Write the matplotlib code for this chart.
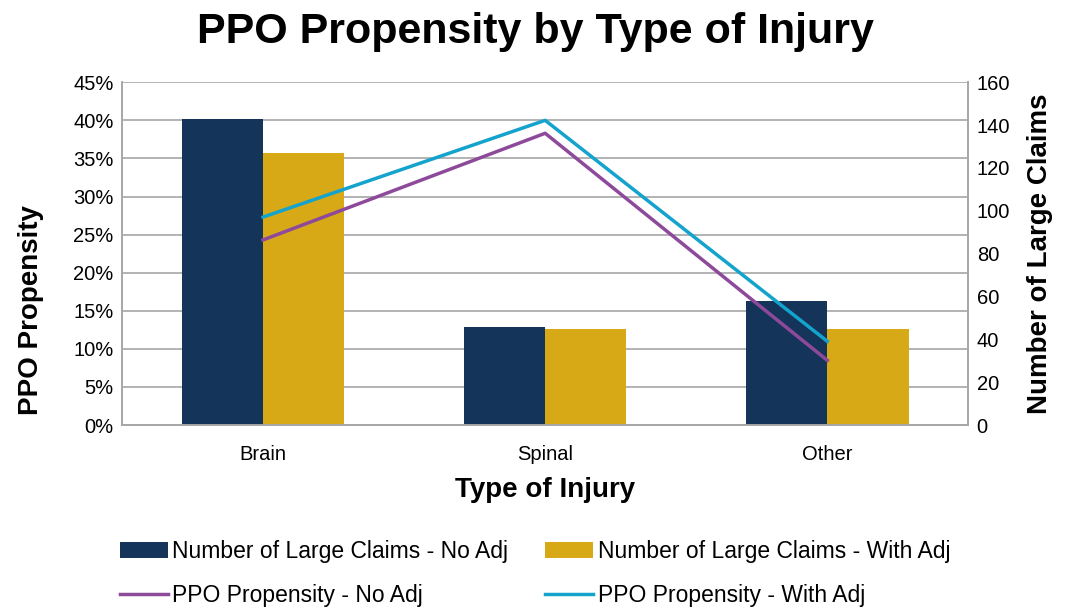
import matplotlib
matplotlib.use('Agg')
import matplotlib.pyplot as plt
import numpy as np

plt.rcParams['font.family'] = ['Liberation Sans', 'DejaVu Sans']

categories = ['Brain', 'Spinal', 'Other']
claims_no_adj = [143, 46, 58]
claims_with_adj = [127, 45, 45]
ppo_no_adj = [0.243, 0.383, 0.085]
ppo_with_adj = [0.273, 0.400, 0.110]

navy = '#14345a'
gold = '#d8a917'
purple = '#8e4a9a'
cyan = '#14a3cc'

fig = plt.figure(figsize=(10.7, 6.09), dpi=100)
ax = fig.add_axes([0.114, 0.302, 0.791, 0.563])
ax2 = ax.twinx()

x = np.arange(len(categories))
w = 0.288
ax2.bar(x - w/2, claims_no_adj, w, color=navy, label='Number of Large Claims - No Adj', zorder=2)
ax2.bar(x + w/2, claims_with_adj, w, color=gold, label='Number of Large Claims - With Adj', zorder=2)

# lines on the left axis, drawn above the bars
ax.set_zorder(ax2.get_zorder() + 1)
ax.patch.set_visible(False)
ax.plot(x, ppo_no_adj, color=purple, lw=2.5, label='PPO Propensity - No Adj')
ax.plot(x, ppo_with_adj, color=cyan, lw=2.5, label='PPO Propensity - With Adj')

ax.set_ylim(0, 0.45)
ax.set_yticks(np.arange(0, 0.46, 0.05))
ax.set_yticklabels([f'{int(round(v*100))}%' for v in np.arange(0, 0.46, 0.05)])
ax2.set_ylim(0, 160)
ax2.set_yticks(range(0, 161, 20))
ax.set_xlim(-0.5, 2.5)
ax.set_xticks(x)
ax.set_xticklabels(categories)

for v in np.arange(0.05, 0.46, 0.05):
    ax2.axhline(v / 0.45 * 160, color='#a6a6a6', lw=1.2, zorder=0)

for a in (ax, ax2):
    a.tick_params(labelsize=14.5, length=0, pad=6)
    for s in a.spines.values():
        s.set_color('#a6a6a6')
        s.set_linewidth(1.2)
    a.spines['top'].set_visible(False)
ax.tick_params(axis='x', pad=14)

ax.set_ylabel('PPO Propensity', fontsize=20, fontweight='bold')
ax.yaxis.set_label_coords(-0.092, 0.335)
ax2.set_ylabel('Number of Large Claims', fontsize=20, fontweight='bold', labelpad=12)
ax.set_xlabel('Type of Injury', fontsize=20, fontweight='bold', labelpad=10)
fig.suptitle('PPO Propensity by Type of Injury', fontsize=31, fontweight='bold', x=0.5, y=0.98)

h1, l1 = ax2.get_legend_handles_labels()
h2, l2 = ax.get_legend_handles_labels()
handles = [h1[0], h2[0], h1[1], h2[1]]
labels = [l1[0], l2[0], l1[1], l2[1]]
fig.legend(handles, labels, ncol=2, loc='lower center', bbox_to_anchor=(0.5, -0.03),
           frameon=False, fontsize=16.5, handlelength=2.1, handletextpad=0.2,
           columnspacing=1.6, labelspacing=0.9)

fig.savefig('out.png', dpi=100)
